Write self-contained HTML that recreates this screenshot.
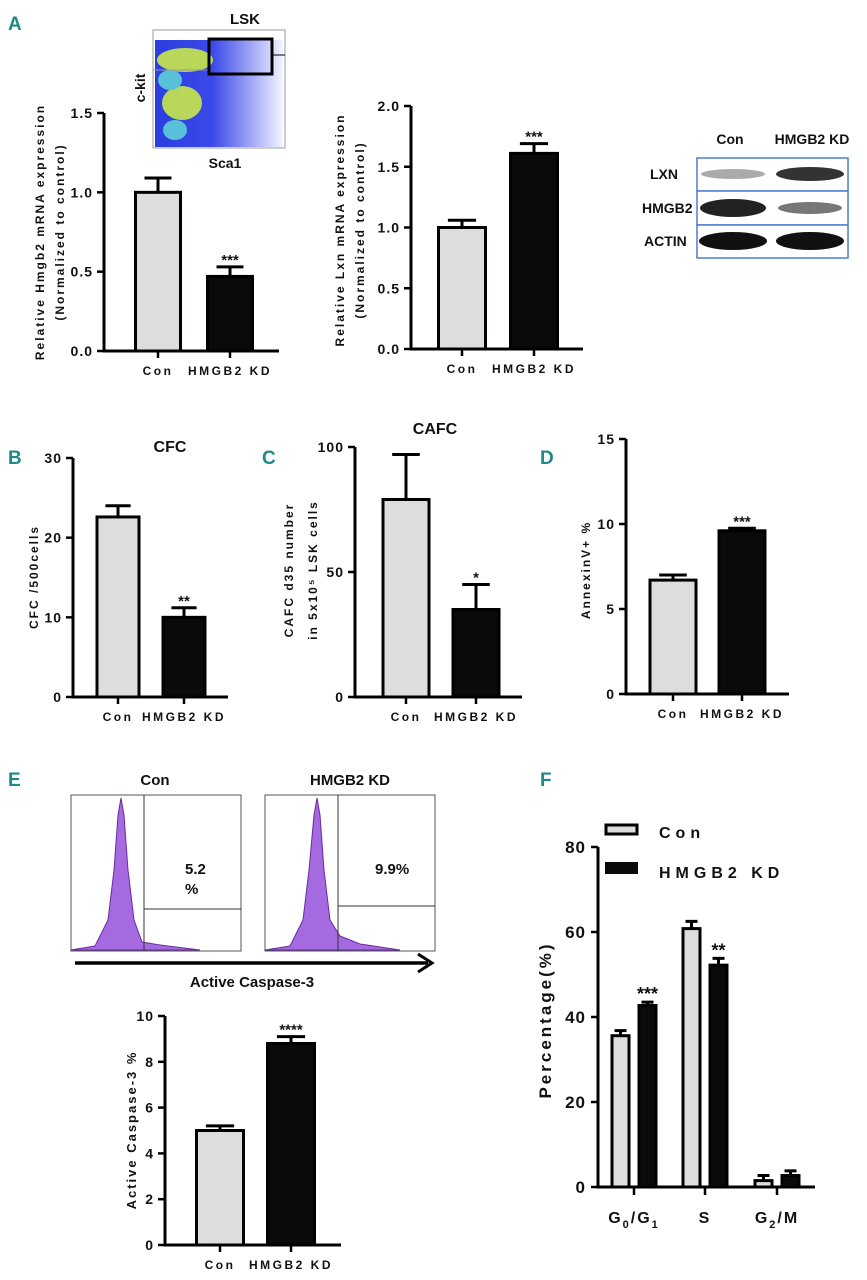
<!DOCTYPE html>
<html><head><meta charset="utf-8"><style>
html,body{margin:0;padding:0;background:#fff;}
svg{display:block;font-family:"Liberation Sans",Arial,sans-serif;}
.t{font-weight:bold;fill:#111;}
</style></head><body>
<svg id="fig" width="867" height="1280" viewBox="0 0 867 1280" xmlns="http://www.w3.org/2000/svg">
<defs>
<linearGradient id="fg" x1="0" y1="0" x2="1" y2="0"><stop offset="0" stop-color="#2a3ee0"/><stop offset="0.45" stop-color="#3b49e8"/><stop offset="1" stop-color="#f4f4ff"/></linearGradient>
</defs>
<g class="t" font-size="19" style="font-family:'Liberation Sans Narrow','Liberation Sans',sans-serif">
<text x="8" y="30" style="fill:#1e8a88">A</text>
<text x="8" y="464" style="fill:#1e8a88">B</text>
<text x="262" y="464" style="fill:#1e8a88">C</text>
<text x="540" y="464" style="fill:#1e8a88">D</text>
<text x="8" y="786" style="fill:#1e8a88">E</text>
<text x="540" y="786" style="fill:#1e8a88">F</text>
</g>
<!-- flow plot -->
<g>
<rect x="153" y="30" width="132" height="118" fill="#fff" stroke="#999"/>
<rect x="155" y="40" width="128" height="107" fill="url(#fg)"/>
<ellipse cx="185" cy="60" rx="28" ry="12" fill="#c8e84a" opacity="0.9"/>
<ellipse cx="182" cy="103" rx="20" ry="17" fill="#c8e84a" opacity="0.9"/>
<ellipse cx="170" cy="80" rx="12" ry="10" fill="#58c0d8"/>
<ellipse cx="175" cy="130" rx="12" ry="10" fill="#58c0d8"/>
<line x1="153" y1="70" x2="209" y2="70" stroke="#999"/>
<rect x="209" y="39" width="63" height="35" fill="none" stroke="#000" stroke-width="3"/>
<line x1="272" y1="55" x2="285" y2="55" stroke="#000"/>
<text class="t" x="245" y="24" font-size="15" text-anchor="middle">LSK</text>
<text class="t" x="0" y="0" font-size="14" text-anchor="middle" transform="translate(145,88) rotate(-90)">c-kit</text>
<text class="t" x="225" y="168" font-size="14" text-anchor="middle">Sca1</text>
</g>
<!-- western blot -->
<g>
<text class="t" x="730" y="144" font-size="14" text-anchor="middle">Con</text>
<text class="t" x="812" y="144" font-size="14" text-anchor="middle">HMGB2 KD</text>
<rect x="697" y="158" width="151" height="33" fill="#fff" stroke="#4a7fd0" stroke-width="1.5"/>
<rect x="697" y="191" width="151" height="34" fill="#fff" stroke="#4a7fd0" stroke-width="1.5"/>
<rect x="697" y="225" width="151" height="33" fill="#fff" stroke="#4a7fd0" stroke-width="1.5"/>
<ellipse cx="733" cy="174" rx="32" ry="5" fill="#aaa"/>
<ellipse cx="810" cy="174" rx="34" ry="7" fill="#333"/>
<ellipse cx="733" cy="208" rx="33" ry="9" fill="#222"/>
<ellipse cx="810" cy="208" rx="32" ry="6" fill="#777"/>
<ellipse cx="733" cy="241" rx="34" ry="9" fill="#111"/>
<ellipse cx="810" cy="241" rx="34" ry="9" fill="#111"/>
<text class="t" x="650" y="179" font-size="14">LXN</text>
<text class="t" x="642" y="213" font-size="14">HMGB2</text>
<text class="t" x="644" y="246" font-size="14">ACTIN</text>
</g>
<!-- histograms -->
<g>
<text class="t" x="155" y="785" font-size="15" text-anchor="middle">Con</text>
<text class="t" x="350" y="785" font-size="15" text-anchor="middle">HMGB2 KD</text>
<rect x="71" y="795" width="170" height="156" fill="#fff" stroke="#555"/>
<rect x="265" y="795" width="170" height="156" fill="#fff" stroke="#555"/>
<path d="M71 950 L95 946 L108 920 L114 870 L118 815 L121 798 L124 815 L128 870 L134 920 L142 942 L160 945 L200 950 Z" fill="#a56ae0" stroke="#6a2aa0"/>
<path d="M265 950 L290 946 L303 920 L309 870 L314 815 L317 798 L320 815 L324 870 L330 920 L340 936 L360 944 L400 950 Z" fill="#a56ae0" stroke="#6a2aa0"/>
<line x1="144" y1="795" x2="144" y2="951" stroke="#333"/><line x1="144" y1="909" x2="241" y2="909" stroke="#333"/>
<line x1="338" y1="795" x2="338" y2="951" stroke="#333"/><line x1="338" y1="906" x2="435" y2="906" stroke="#333"/>
<text class="t" x="185" y="874" font-size="15">5.2</text><text class="t" x="185" y="894" font-size="15">%</text>
<text class="t" x="375" y="874" font-size="15">9.9%</text>
<line x1="75" y1="963" x2="428" y2="963" stroke="#000" stroke-width="3.5"/>
<path d="M418 954 L432 963 L418 972" fill="none" stroke="#000" stroke-width="3"/>
<text class="t" x="252" y="987" font-size="15" text-anchor="middle">Active Caspase-3</text>
</g>
<g id="charts"></g>
</svg>
<script>
// Chart A1 data
const a1Cats = ["Con", "HMGB2 KD"];
const a1Vals = [1.0, 0.47];
const a1Errs = [0.09, 0.06];
const a1Ticks = ["0.0", "0.5", "1.0", "1.5"];
// Chart A2
const a2Cats = ["Con", "HMGB2 KD"];
const a2Vals = [1.0, 1.61];
const a2Errs = [0.06, 0.08];
const a2Ticks = ["0.0", "0.5", "1.0", "1.5", "2.0"];
// B CFC
const bCats = ["Con", "HMGB2 KD"];
const bVals = [22.6, 10.0];
const bErrs = [1.4, 1.2];
const bTicks = ["0", "10", "20", "30"];
// C CAFC
const cCats = ["Con", "HMGB2 KD"];
const cVals = [79, 35];
const cErrs = [18, 10];
const cTicks = ["0", "50", "100"];
// D Annexin
const dCats = ["Con", "HMGB2 KD"];
const dVals = [6.7, 9.6];
const dErrs = [0.3, 0.15];
const dTicks = ["0", "5", "10", "15"];
// E Caspase
const eCats = ["Con", "HMGB2 KD"];
const eVals = [5.0, 8.8];
const eErrs = [0.2, 0.3];
const eTicks = ["0", "2", "4", "6", "8", "10"];
// F cell cycle
const fGroups = ["G0/G1", "S", "G2/M"];
const fCon = [35.6, 60.8, 1.5];
const fKD = [42.7, 52.2, 2.7];
const fConErr = [1.2, 1.7, 1.2];
const fKDErr = [0.8, 1.6, 1.1];
const fTicks = ["0", "20", "40", "60", "80"];

const NS = "http://www.w3.org/2000/svg";
const root = document.getElementById("charts");
function mk(tag, attrs, parent, text) {
  const e = document.createElementNS(NS, tag);
  for (const k in attrs) e.setAttribute(k, attrs[k]);
  if (text !== undefined) e.textContent = text;
  (parent || root).appendChild(e);
  return e;
}
function chart(o) {
  const g = mk("g", {});
  
  
  const ymax = parseFloat(o.ticks[o.ticks.length - 1]);
  const y = v => o.y0 - (v / ymax) * (o.y0 - o.y1);
  mk("line", {x1: o.ax, y1: o.y1, x2: o.ax, y2: o.y0 + 1.5, stroke: "#000", "stroke-width": 3}, g);
  mk("line", {x1: o.ax, y1: o.y0, x2: o.axEnd, y2: o.y0, stroke: "#000", "stroke-width": 3}, g);
  o.ticks.forEach(t => {
    const ty = y(parseFloat(t));
    mk("line", {x1: o.ax - 7, y1: ty, x2: o.ax, y2: ty, stroke: "#000", "stroke-width": 2.5}, g);
    const tl = mk("text", {x: o.ax - 11, y: ty + 5, "font-size": o.tfs || 14, "text-anchor": "end", "class": "t", "letter-spacing": 1}, g, t);
    
    
  });
  o.cats.forEach((c, i) => {
    const cx = o.cx[i];
    const top = y(o.vals[i]);
    const eb = y(o.vals[i] + o.errs[i]);
    mk("line", {x1: cx, y1: eb, x2: cx, y2: top, stroke: "#000", "stroke-width": 3}, g);
    mk("line", {x1: cx - o.bw * 0.3, y1: eb, x2: cx + o.bw * 0.3, y2: eb, stroke: "#000", "stroke-width": 3}, g);
    const r = mk("rect", {x: cx - o.bw / 2, y: top, width: o.bw, height: o.y0 - top, fill: i === 0 ? "#dcdedd" : "#0a0a0a", stroke: "#000", "stroke-width": 3}, g);
    
    
    mk("line", {x1: cx, y1: o.y0, x2: cx, y2: o.y0 + 7, stroke: "#000", "stroke-width": 2.5}, g);
    const xl = mk("text", {x: cx, y: o.y0 + 24, "font-size": 12, "text-anchor": "middle", "class": "t", "letter-spacing": 2.5}, g, c);
    
    
    if (i === 1 && o.star) mk("text", {x: cx, y: eb - 2, "font-size": 15, "text-anchor": "middle", "class": "t"}, g, o.star);
  });
  o.ylab.forEach((l, k) => {
    const yl = mk("text", {x: 0, y: 0, "font-size": o.lfs || 12, "text-anchor": "middle", "class": "t", "letter-spacing": 2, transform: `translate(${o.lx + k * (o.lgap || 20)},${o.ly}) rotate(-90)`}, g, l);
    
    
  });
  if (o.title) {
    const tt = mk("text", {x: o.title[1], y: o.title[2], "font-size": 16, "text-anchor": "middle", "class": "t"}, g, o.title[0]);
    
    
  }
  return g;
}
chart({name: "chart-hmgb2-mrna", cats: a1Cats, vals: a1Vals, errs: a1Errs, ticks: a1Ticks, ax: 104, axEnd: 279, y0: 351, y1: 113, cx: [158, 230], bw: 45, star: "***", ylab: ["Relative Hmgb2 mRNA expression", "(Normalized to control)"], lx: 44, ly: 232});
chart({name: "chart-lxn-mrna", cats: a2Cats, vals: a2Vals, errs: a2Errs, ticks: a2Ticks, ax: 411, axEnd: 583, y0: 349, y1: 106, cx: [462, 534], bw: 47, star: "***", ylab: ["Relative Lxn mRNA expression", "(Normalized to control)"], lx: 344, ly: 230});
chart({name: "chart-cfc", cats: bCats, vals: bVals, errs: bErrs, ticks: bTicks, ax: 73, axEnd: 228, y0: 697, y1: 458, cx: [118, 184], bw: 42, star: "**", ylab: ["CFC /500cells"], lx: 38, ly: 577, title: ["CFC", 170, 452]});
chart({name: "chart-cafc", cats: cCats, vals: cVals, errs: cErrs, ticks: cTicks, ax: 355, axEnd: 522, y0: 697, y1: 447, cx: [406, 476], bw: 46, star: "*", ylab: ["CAFC d35 number", "in 5x10⁵ LSK cells"], lx: 293, ly: 570, lgap: 24, title: ["CAFC", 435, 434]});
chart({name: "chart-annexin", cats: dCats, vals: dVals, errs: dErrs, ticks: dTicks, ax: 626, axEnd: 789, y0: 694, y1: 439, cx: [673, 742], bw: 46, star: "***", ylab: ["AnnexinV+ %"], lx: 590, ly: 570});
chart({name: "chart-active-caspase3", cats: eCats, vals: eVals, errs: eErrs, ticks: eTicks, ax: 165, axEnd: 341, y0: 1245, y1: 1016, cx: [220, 291], bw: 47, star: "****", tfs: 14, lfs: 13, ylab: ["Active Caspase-3 %"], lx: 136, ly: 1130});

// F grouped chart
(function () {
  const g = mk("g", {});
  
  
  const ax = 598, y0 = 1187, y1 = 847, axEnd = 815;
  const ymax = parseFloat(fTicks[fTicks.length - 1]);
  const y = v => y0 - (v / ymax) * (y0 - y1);
  const gc = [634, 705, 777], bw = 17, off = 13.5;
  mk("line", {x1: ax, y1: y1, x2: ax, y2: y0 + 1.5, stroke: "#000", "stroke-width": 3}, g);
  mk("line", {x1: ax, y1: y0, x2: axEnd, y2: y0, stroke: "#000", "stroke-width": 3}, g);
  fTicks.forEach(t => {
    const ty = y(parseFloat(t));
    mk("line", {x1: ax - 7, y1: ty, x2: ax, y2: ty, stroke: "#000", "stroke-width": 2.5}, g);
    mk("text", {x: ax - 12, y: ty + 6, "font-size": 17, "text-anchor": "end", "class": "t", "letter-spacing": 1}, g, t);
  });
  const series = [[fCon, fConErr, "#dcdedd", "con"], [fKD, fKDErr, "#0a0a0a", "kd"]];
  fGroups.forEach((grp, i) => {
    series.forEach((s, j) => {
      const cx = gc[i] + (j === 0 ? -off : off);
      const top = y(s[0][i]), eb = y(s[0][i] + s[1][i]);
      mk("line", {x1: cx, y1: eb, x2: cx, y2: top, stroke: "#000", "stroke-width": 3}, g);
      mk("line", {x1: cx - 6, y1: eb, x2: cx + 6, y2: eb, stroke: "#000", "stroke-width": 3}, g);
      const r = mk("rect", {x: cx - bw / 2, y: top, width: bw, height: y0 - top, fill: s[2], stroke: "#000", "stroke-width": 3}, g);
      
      
    });
    mk("line", {x1: gc[i], y1: y0, x2: gc[i], y2: y0 + 8, stroke: "#000", "stroke-width": 2.5}, g);
  });
  mk("text", {x: gc[0] + off, y: y(fKD[0] + fKDErr[0]) - 2, "font-size": 18, "text-anchor": "middle", "class": "t"}, g, "***");
  mk("text", {x: gc[1] + off, y: y(fKD[1] + fKDErr[1]) - 2, "font-size": 18, "text-anchor": "middle", "class": "t"}, g, "**");
  const xl = [["G", "0", "/G", "1"], ["S"], ["G", "2", "/M"]];
  xl.forEach((parts, i) => {
    const t = mk("text", {x: gc[i], y: 1223, "font-size": 16, "text-anchor": "middle", "class": "t", "letter-spacing": 2}, g);
    
    
    parts.forEach((p, k) => {
      mk("tspan", k % 2 === 1 ? {"font-size": 11, dy: 5} : (k > 0 ? {dy: -5} : {}), t, p);
    });
  });
  const yl = mk("text", {x: 0, y: 0, "font-size": 17, "text-anchor": "middle", "class": "t", "letter-spacing": 3, transform: "translate(551,1020) rotate(-90)"}, g, "Percentage(%)");
  
  
  const l1 = mk("rect", {x: 606, y: 825, width: 31, height: 9, fill: "#dcdedd", stroke: "#000", "stroke-width": 3}, g);
  
  
  const l2 = mk("rect", {x: 605, y: 862, width: 33, height: 12, fill: "#0a0a0a"}, g);
  
  
  mk("text", {x: 659, y: 838, "font-size": 16, "class": "t", "letter-spacing": 5}, g, "Con");
  mk("text", {x: 659, y: 878, "font-size": 16, "class": "t", "letter-spacing": 5}, g, "HMGB2 KD");
})();
</script>
</body></html>
